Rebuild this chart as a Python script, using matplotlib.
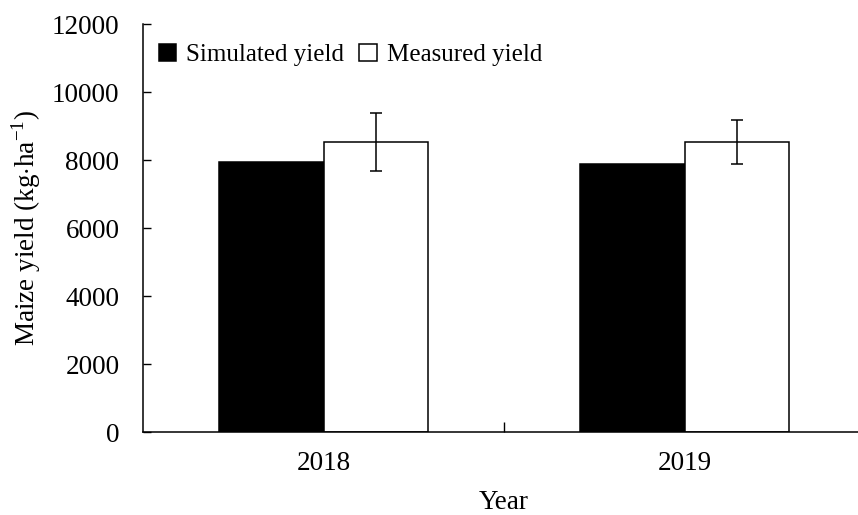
import numpy as np
import matplotlib.pyplot as plt
from matplotlib.ticker import FixedLocator

plt.rcParams['font.family'] = ['Liberation Serif', 'DejaVu Serif']
plt.rcParams['mathtext.fontset'] = 'custom'
plt.rcParams['mathtext.rm'] = 'Liberation Serif'

years = ['2018', '2019']
simulated = [7950, 7870]
measured = [8530, 8530]
measured_err = [850, 640]

fig = plt.figure(figsize=(8.58, 5.15), dpi=100)
ax = fig.add_axes([143 / 858, 83 / 515, 722 / 858, 408 / 515])

x = np.arange(len(years))
w = 0.29
ax.bar(x - w / 2, simulated, w, color='black', edgecolor='black',
       linewidth=1.1, label='Simulated yield')
ax.bar(x + w / 2, measured, w, color='white', edgecolor='black',
       linewidth=1.1, label='Measured yield')
ax.errorbar(x + w / 2, measured, yerr=measured_err, fmt='none',
            ecolor='black', elinewidth=1.1, capsize=4.5, capthick=1.1)

ax.set_xlim(-0.5, 1.5)
ax.set_ylim(0, 12000)
ax.set_yticks(range(0, 12001, 2000))
ax.set_xticks(x)
ax.set_xticklabels(years)
ax.xaxis.set_minor_locator(FixedLocator([0.5]))

ax.tick_params(axis='y', direction='in', length=6, width=1, pad=17,
               labelsize=19.5)
ax.tick_params(axis='x', which='major', length=0, pad=14, labelsize=19.5)
ax.tick_params(axis='x', which='minor', direction='in', length=7, width=1)

for side in ['top', 'right']:
    ax.spines[side].set_visible(False)
for side in ['left', 'bottom']:
    ax.spines[side].set_linewidth(1.1)

ax.set_ylabel(r'Maize yield (kg$\cdot$ha$^{\mathregular{-1}}$)', fontsize=19.5,
              labelpad=6)
ax.set_xlabel('Year', fontsize=19.5, labelpad=10)

ax.legend(loc='center left', bbox_to_anchor=(0.008, 0.924), ncol=2,
          frameon=False, fontsize=18, handlelength=0.7, handleheight=0.7,
          handletextpad=0.4, columnspacing=0.6, borderaxespad=0)

fig.savefig('out.png', dpi=100)
